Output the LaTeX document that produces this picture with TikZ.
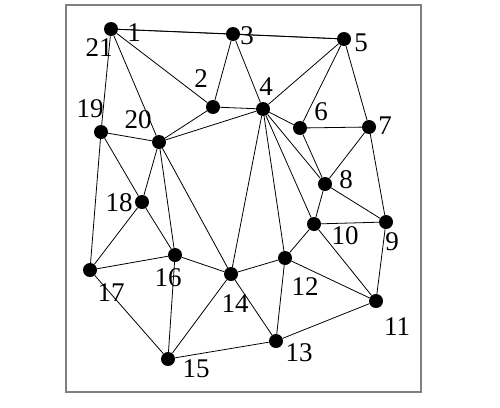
\documentclass[tikz,border=0pt]{standalone}
\usepackage{fontspec}
\setmainfont{Liberation Serif}
\begin{document}
\begin{tikzpicture}[x=1pt,y=-1pt,
  dot/.style={circle,fill=black,inner sep=0pt,minimum size=14pt},
  lab/.style={inner sep=0pt,font=\fontsize{27}{27}\selectfont},
  edge/.style={line width=0.8pt}]
\useasboundingbox (0,0) rectangle (500,407);
\draw[gray,line width=1.2pt] (66,5) rectangle (421,392);
\node[dot] (n1) at (111,29) {};
\node[dot] (n2) at (213,107) {};
\node[dot] (n3) at (233,34) {};
\node[dot] (n4) at (263,109) {};
\node[dot] (n5) at (344,39) {};
\node[dot] (n6) at (300,128) {};
\node[dot] (n7) at (369,127) {};
\node[dot] (n8) at (325,184) {};
\node[dot] (n9) at (386,222) {};
\node[dot] (n10) at (314,224) {};
\node[dot] (n11) at (376,301) {};
\node[dot] (n12) at (285,258) {};
\node[dot] (n13) at (276,341) {};
\node[dot] (n14) at (231,274) {};
\node[dot] (n15) at (168,359) {};
\node[dot] (n16) at (175,255) {};
\node[dot] (n17) at (90,270) {};
\node[dot] (n18) at (142,202) {};
\node[dot] (n19) at (101,132) {};
\node[dot] (n20) at (159,142) {};
\foreach \a/\b in {n1/n3,n1/n5,n3/n5,n1/n2,n1/n20,n1/n19,n3/n2,n3/n4,
  n2/n20,n2/n4,n4/n20,n4/n5,n5/n6,n5/n7,n4/n6,n6/n7,n6/n8,
  n4/n8,n4/n10,n4/n12,n4/n14,n7/n8,n7/n9,n8/n10,n8/n9,n10/n9,
  n10/n12,n10/n11,n9/n11,n12/n11,n12/n14,n12/n13,n14/n13,n14/n15,
  n14/n16,n14/n20,n11/n13,n13/n15,n15/n16,n15/n17,n16/n17,n16/n18,
  n16/n20,n17/n18,n17/n19,n18/n19,n18/n20,n19/n20}
  \draw[edge] (\a) -- (\b);
\node[lab] (l1) at (134,33) {1};
\node[lab] (l21) at (99,48) {21};
\node[lab] (l2) at (201,79) {2};
\node[lab] (l3) at (247,36) {3};
\node[lab] (l4) at (266,87) {4};
\node[lab] (l5) at (361,43) {5};
\node[lab] (l6) at (321,112) {6};
\node[lab] (l7) at (385,126) {7};
\node[lab] (l8) at (346,180) {8};
\node[lab] (l9) at (392,242) {9};
\node[lab] (l10) at (345,236) {10};
\node[lab] (l11) at (397,327) {11};
\node[lab] (l12) at (305,287) {12};
\node[lab] (l13) at (299,353) {13};
\node[lab] (l14) at (235,304) {14};
\node[lab] (l15) at (196,369) {15};
\node[lab] (l16) at (168,278) {16};
\node[lab] (l17) at (111,293) {17};
\node[lab] (l18) at (119,203) {18};
\node[lab] (l19) at (90,109) {19};
\node[lab] (l20) at (138,120) {20};
\end{tikzpicture}
\end{document}
